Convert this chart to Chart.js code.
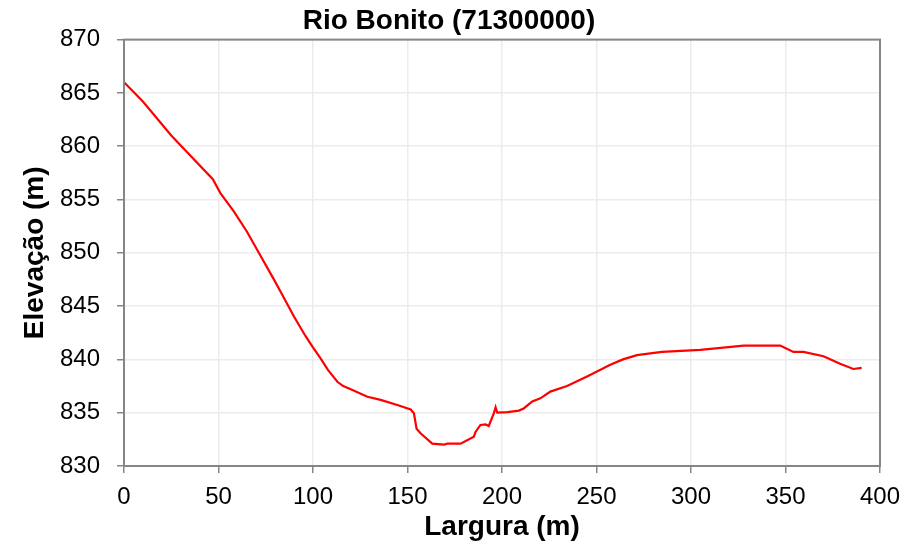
<!DOCTYPE html>
<html>
<head>
<meta charset="utf-8">
<script src="https://cdn.jsdelivr.net/npm/chart.js@4"></script>
<style>
  html, body { margin: 0; padding: 0; background: #fff; }
  #wrap { width: 920px; height: 552px; }
</style>
</head>
<body>
<div id="wrap"><canvas id="chart" width="920" height="552"></canvas></div>
<script>
// perfil transversal
const largura = [0, 10, 25, 47, 51, 58, 65, 72, 79, 83, 90, 96, 99.7, 104, 108, 112.9, 116, 120, 128.8, 135.8, 145, 151.7, 153.4, 154.8, 156.9, 163.1, 169.3, 171, 178.1, 185.1, 186, 188.6, 191.3, 193, 195.7, 196.6, 197.5, 203, 208.9, 211.5, 216, 220.3, 225.6, 234.4, 245, 257.3, 264, 271.4, 284.6, 304.9, 327.8, 347.2, 354.2, 359.5, 370.1, 378.9, 385.9, 390.3];
const elevacao = [866, 864.2, 861.0, 856.9, 855.6, 853.9, 852.0, 849.8, 847.6, 846.3, 844.0, 842.2, 841.2, 840.1, 839.0, 837.9, 837.5, 837.2, 836.5, 836.2, 835.7, 835.3, 834.95, 833.5, 833.07, 832.1, 832.0, 832.1, 832.1, 832.75, 833.2, 833.85, 833.9, 833.76, 834.95, 835.5, 835.0, 835.05, 835.2, 835.4, 836.05, 836.35, 836.98, 837.5, 838.4, 839.5, 840.0, 840.4, 840.7, 840.9, 841.3, 841.3, 840.7, 840.7, 840.3, 839.6, 839.1, 839.2];

const xTicks = [0, 50, 100, 150, 200, 250, 300, 350, 400];
const yTicks = [830, 835, 840, 845, 850, 855, 860, 865, 870];

const pontos = largura.map((x, i) => ({ x: x, y: elevacao[i] }));

// moldura cinza em volta da area do grafico
const moldura = {
    id: 'moldura',
    afterDraw(chart) {
        const a = chart.chartArea;
        const c = chart.ctx;
        c.save();
        c.strokeStyle = '#868686';
        c.lineWidth = 2;
        c.strokeRect(a.left, a.top, a.right - a.left, a.bottom - a.top);
        c.restore();
    }
};

const fonte = "'Liberation Sans', Arial, sans-serif";

new Chart(document.getElementById('chart').getContext('2d'), {
    type: 'scatter',
    data: {
        datasets: [{
            data: pontos,
            showLine: true,
            borderColor: '#ff0000',
            borderWidth: 2.2,
            pointRadius: 0,
            tension: 0
        }]
    },
    options: {
        responsive: false,
        animation: false,
        layout: { padding: { top: 0, right: 40, bottom: 8, left: 18 } },
        plugins: {
            legend: { display: false },
            tooltip: { enabled: false },
            title: {
                display: true,
                text: 'Rio Bonito (71300000)',
                color: '#000',
                font: { family: fonte, size: 28, weight: 'bold' },
                padding: { top: 4, bottom: 2 }
            }
        },
        scales: {
            x: {
                type: 'linear',
                min: 0,
                max: 400,
                afterBuildTicks: (axis) => { axis.ticks = xTicks.map(v => ({ value: v })); },
                afterFit: (axis) => { axis.height = 78; },
                grid: { color: '#ececec', lineWidth: 1.5, tickColor: '#868686', tickLength: 7 },
                border: { color: '#868686', width: 2 },
                ticks: { color: '#000', font: { family: fonte, size: 24 }, padding: 10 },
                title: {
                    display: true,
                    text: 'Largura (m)',
                    color: '#000',
                    font: { family: fonte, size: 28, weight: 'bold' },
                    padding: { top: 0, bottom: 0 }
                }
            },
            y: {
                type: 'linear',
                min: 830,
                max: 870,
                afterBuildTicks: (axis) => { axis.ticks = yTicks.map(v => ({ value: v })); },
                afterFit: (axis) => { axis.width = 106; },
                grid: { color: '#ececec', lineWidth: 1.5, tickColor: '#868686', tickLength: 7 },
                border: { color: '#868686', width: 2 },
                ticks: { color: '#000', font: { family: fonte, size: 24 }, padding: 17 },
                title: {
                    display: true,
                    text: 'Elevação (m)',
                    color: '#000',
                    font: { family: fonte, size: 28, weight: 'bold' },
                    padding: { top: 0, bottom: 0 }
                }
            }
        }
    },
    plugins: [moldura]
});
</script>
</body>
</html>
